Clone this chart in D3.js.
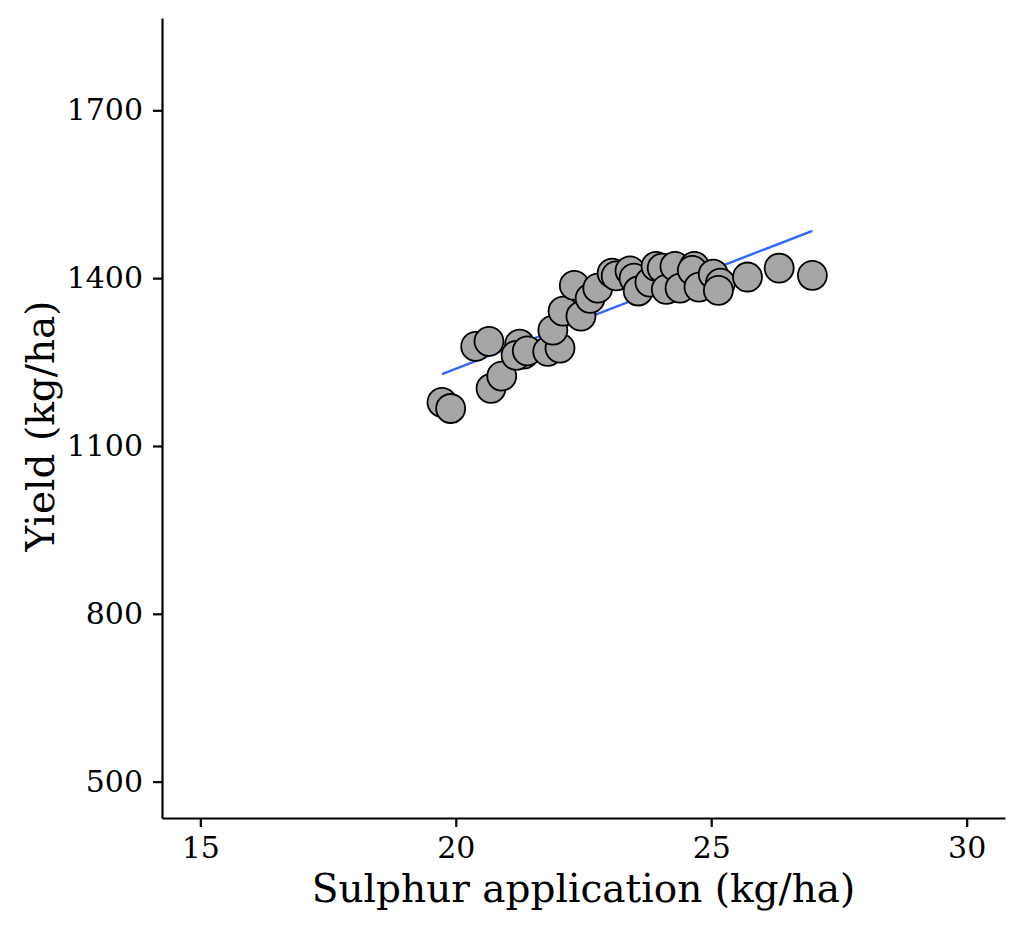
<!DOCTYPE html>
<html>
<head>
<meta charset="utf-8">
<script src="https://cdn.jsdelivr.net/npm/d3@7"></script>
<style>
  body { margin: 0; background: #fff; }
  .axis text { font-family: "DejaVu Serif", serif; font-size: 30px; fill: #000; }
  .axis path, .axis line { stroke: #000; stroke-width: 2.2; }
</style>
</head>
<body>
<div class="chart"></div>
<script>
// sulphur application (kg/ha) and yield (kg/ha)
const sulphur = [19.73, 19.90, 20.39, 20.65, 20.69, 20.90, 21.25, 21.33, 21.18, 21.40,
  21.80, 22.04, 21.90, 22.10, 22.32, 22.45, 22.63, 22.78, 23.06, 23.14,
  23.41, 23.49, 23.57, 23.80, 23.92, 24.04, 24.12, 24.29, 24.39, 24.67,
  24.63, 24.76, 25.04, 25.18, 25.14, 25.71, 26.33, 26.98];
const yieldKg = [1178, 1167, 1278, 1287, 1203, 1225, 1282, 1264, 1262, 1270,
  1269, 1275, 1307, 1341, 1387, 1332, 1364, 1382, 1409, 1404,
  1413, 1400, 1377, 1393, 1421, 1418, 1380, 1421, 1382, 1421,
  1414, 1384, 1407, 1391, 1378, 1402, 1418, 1405];
const xTicks = [15, 20, 25, 30];
const yTicks = [500, 800, 1100, 1400, 1700];

const data = sulphur.map((s, i) => ({sulphur: s, yield: yieldKg[i]}));

const margin = ({top: 18, right: 19, bottom: 113, left: 162});
const width = 1024 - margin.left - margin.right;
const height = 931 - margin.top - margin.bottom;

const svg = d3.select('.chart').append('svg')
    .attr("width", 1024)
    .attr("height", 931)
    .append("g")
    .attr("transform", `translate(${margin.left},${margin.top})`);

const xScale = d3.scaleLinear()
    .domain([14.25, 30.75])
    .range([0, width]);

const yScale = d3.scaleLinear()
    .domain([435, 1865])
    .range([height, 0]);

const xAxis = d3.axisBottom(xScale).tickValues(xTicks).tickFormat(d3.format("d"))
    .tickSize(9).tickPadding(10).tickSizeOuter(0);
const yAxis = d3.axisLeft(yScale).tickValues(yTicks).tickFormat(d3.format("d"))
    .tickSize(9).tickPadding(10).tickSizeOuter(0);

svg.append("g")
    .attr("class", "axis x-axis")
    .attr("transform", `translate(0,${height})`)
    .call(xAxis);

svg.append("g")
    .attr("class", "axis y-axis")
    .call(yAxis);

// linear fit (geom_smooth lm)
const mx = d3.mean(data, d => d.sulphur), my = d3.mean(data, d => d.yield);
const slope = d3.sum(data, d => (d.sulphur - mx) * (d.yield - my)) / d3.sum(data, d => (d.sulphur - mx) ** 2);
const fit = x => my + slope * (x - mx);
const ext = d3.extent(data, d => d.sulphur);

svg.append("line")
    .attr("x1", xScale(ext[0])).attr("y1", yScale(fit(ext[0])))
    .attr("x2", xScale(ext[1])).attr("y2", yScale(fit(ext[1])))
    .attr("stroke", "#3366FF")
    .attr("stroke-width", 2.4);

svg.append('g')
    .selectAll('circle')
    .data(data)
    .enter()
    .append("circle")
    .attr("cx", d => xScale(d.sulphur))
    .attr("cy", d => yScale(d.yield))
    .attr("r", 14.5)
    .attr("fill", "#A6A6A6")
    .attr("stroke", "#000")
    .attr("stroke-width", 1.8);

svg.append("text")
    .attr('x', width / 2)
    .attr('y', height + 84)
    .attr("text-anchor", "middle")
    .attr("font-family", "DejaVu Serif, serif")
    .attr("font-size", "39px")
    .text("Sulphur application (kg/ha)");

svg.append("text")
    .attr("transform", `translate(${-108},${height / 2 + 8}) rotate(-90)`)
    .attr("text-anchor", "middle")
    .attr("font-family", "DejaVu Serif, serif")
    .attr("font-size", "39px")
    .text("Yield (kg/ha)");
</script>
</body>
</html>
